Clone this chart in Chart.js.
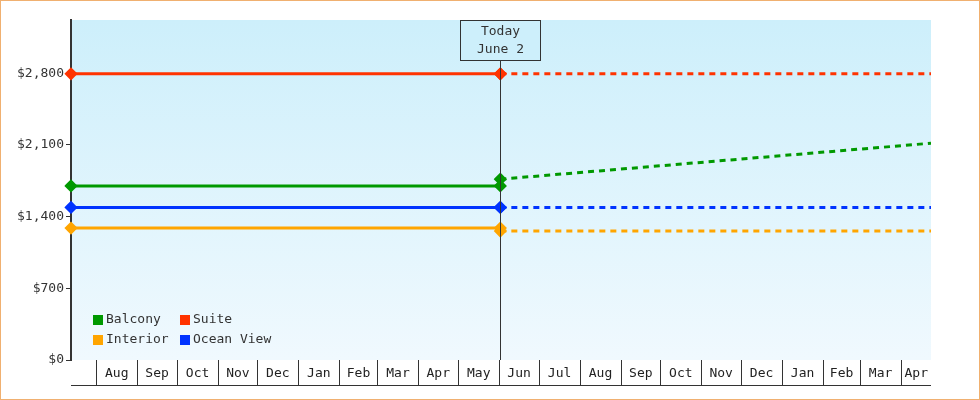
<!DOCTYPE html>
<html>
<head>
<meta charset="utf-8">
<script src="https://cdn.jsdelivr.net/npm/chart.js@4"></script>
<style>
  body { margin: 0; background: #fff; }
  #wrap { width: 980px; height: 400px; }
</style>
</head>
<body>
<div id="wrap"><canvas id="c"></canvas></div>
<script>
// dates -> day offsets from "today"
const today = new Date(2024, 5, 2);
const axisStart = new Date(2023, 6, 13);
const axisEnd = new Date(2025, 3, 24);
const monthLabels = ['Aug','Sep','Oct','Nov','Dec','Jan','Feb','Mar','Apr','May','Jun','Jul','Aug','Sep','Oct','Nov','Dec','Jan','Feb','Mar','Apr'];
const monthStarts = monthLabels.map((m, i) => new Date(2023, 7 + i, 1));

const seriesNames = ['Balcony', 'Suite', 'Interior', 'Ocean View'];
const seriesColors = ['#009900', '#ff3300', '#ffa500', '#0033ff'];
// solid part (start, today), dashed part (today, end)
const pastValues = [[1700, 1700], [2795, 2795], [1288, 1288], [1490, 1490]];
const futureValues = [[1766, 2117], [2795, 2795], [1259, 1259], [1490, 1490]];

const day = d => Math.round((d - today) / 86400000);
const xMin = day(axisStart), xMax = day(axisEnd);

const datasets = [];
seriesNames.forEach((name, i) => {
  datasets.push({
    label: name,
    data: [{ x: xMin, y: pastValues[i][0] }, { x: 0, y: pastValues[i][1] }],
    borderColor: seriesColors[i], backgroundColor: seriesColors[i],
    borderWidth: 3, pointStyle: 'rectRot', pointRadius: 4.5, clip: false
  });
  datasets.push({
    label: name + ' forecast',
    data: [{ x: 0, y: futureValues[i][0] }, { x: xMax, y: futureValues[i][1] }],
    borderColor: seriesColors[i], backgroundColor: seriesColors[i],
    borderWidth: 3, borderDash: [6, 5], pointStyle: 'rectRot',
    pointRadius: [4.5, 0]
  });
});

const font = '13px "DejaVu Sans Mono"';

const decor = {
  id: 'decor',
  beforeDraw(chart) {
    const { ctx, chartArea: a } = chart;
    const g = ctx.createLinearGradient(0, a.top, 0, a.bottom);
    g.addColorStop(0, '#cdeffb');
    g.addColorStop(1, '#f0f9fe');
    ctx.save();
    ctx.fillStyle = g;
    ctx.fillRect(a.left, a.top, a.right - a.left, a.bottom - a.top);
    ctx.restore();
  },
  afterDatasetsDraw(chart) {
    const { ctx, chartArea: a, scales: { x } } = chart;
    ctx.save();
    ctx.strokeStyle = '#333';
    ctx.lineWidth = 1;
    // month boxes
    ctx.beginPath();
    ctx.moveTo(a.left, a.bottom + 25.5);
    ctx.lineTo(a.right, a.bottom + 25.5);
    ctx.stroke();
    ctx.font = font;
    ctx.fillStyle = '#222';
    ctx.textAlign = 'center';
    ctx.textBaseline = 'middle';
    monthStarts.forEach((d, i) => {
      const x0 = Math.round(x.getPixelForValue(day(d))) + 0.5;
      const next = new Date(d.getFullYear(), d.getMonth() + 1, 1);
      const x1 = Math.min(x.getPixelForValue(day(next)), a.right);
      ctx.beginPath();
      ctx.moveTo(x0, a.bottom);
      ctx.lineTo(x0, a.bottom + 25);
      ctx.stroke();
      ctx.fillText(monthLabels[i], (x0 + x1) / 2, a.bottom + 14);
    });
    // today marker
    const tx = Math.round(x.getPixelForValue(0)) + 0.5;
    ctx.beginPath();
    ctx.moveTo(tx, a.top + 40);
    ctx.lineTo(tx, a.bottom);
    ctx.stroke();
    ctx.fillStyle = '#cdeffb';
    ctx.fillRect(tx - 40, a.top + 0.5, 80, 40);
    ctx.strokeRect(tx - 40, a.top + 0.5, 80, 40);
    ctx.fillStyle = '#333';
    ctx.fillText('Today', tx, a.top + 12);
    ctx.fillText('June 2', tx, a.top + 30);
    // legend
    const cols = [a.left + 22, a.left + 109];
    ctx.textAlign = 'left';
    seriesNames.forEach((name, j) => {
      const lx = cols[j % 2], ly = a.bottom - 40 + Math.floor(j / 2) * 20;
      ctx.fillStyle = seriesColors[j];
      ctx.fillRect(lx, ly - 5, 10, 10);
      ctx.fillStyle = '#333';
      ctx.fillText(name, lx + 13, ly);
    });
    // outer border
    ctx.strokeStyle = '#f0b070';
    ctx.strokeRect(0.5, 0.5, chart.width - 1, chart.height - 1);
    ctx.restore();
  }
};

new Chart(document.getElementById('c'), {
  type: 'line',
  data: { datasets },
  options: {
    responsive: true, maintainAspectRatio: false, animation: false,
    layout: { padding: { left: 0, top: 20, right: 49, bottom: 40 } },
    plugins: { legend: { display: false }, tooltip: { enabled: false } },
    scales: {
      x: { type: 'linear', min: xMin, max: xMax, display: false },
      y: {
        min: 0, max: 3320,
        afterFit: s => { s.width = 71; },
        afterBuildTicks: s => { s.ticks = [0, 700, 1400, 2100, 2800].map(v => ({ value: v })); },
        border: { color: '#333', width: 2 },
        grid: { drawOnChartArea: false, color: '#333', tickLength: 5 },
        ticks: { font: { family: 'DejaVu Sans Mono', size: 13 }, color: '#333', padding: 2,
          callback: v => '$' + v.toLocaleString('en-US') }
      }
    }
  },
  plugins: [decor]
});
</script>
</body>
</html>
